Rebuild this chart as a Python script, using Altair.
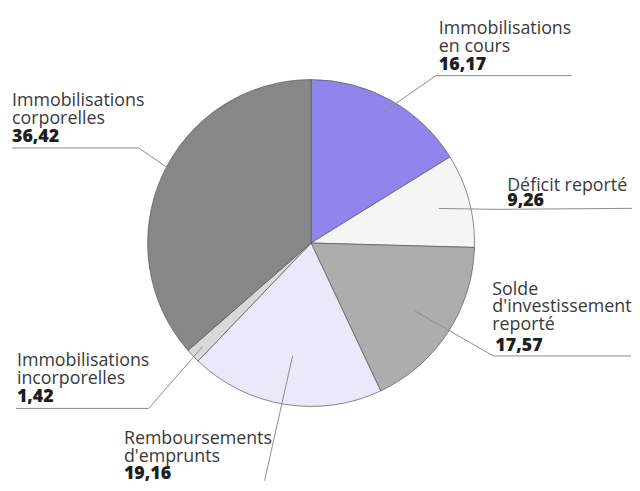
import altair as alt
import pandas as pd
import numpy as np

# ---- data ----
categories = [
    "Immobilisations en cours",
    "Déficit reporté",
    "Solde d'investissement reporté",
    "Remboursements d'emprunts",
    "Immobilisations incorporelles",
    "Immobilisations corporelles",
]
values = [16.17, 9.26, 17.57, 19.16, 1.42, 36.42]
label_lines = [
    ["Immobilisations", "en cours"],
    ["Déficit reporté"],
    ["Solde", "d'investissement", "reporté"],
    ["Remboursements", "d'emprunts"],
    ["Immobilisations", "incorporelles"],
    ["Immobilisations", "corporelles"],
]
colors = ["#9184EC", "#F5F5F5", "#ADADAD", "#ECE8FC", "#D9D9D9", "#878787"]

# ---- layout (page pixel coordinates) ----
W, H = 630, 475
CX, CY, R = 314, 243, 165
label_x = [443, 512, 497, 125, 17, 12]
value_x = [443, 512, 500, 125, 17, 12]
first_baseline = [32, 190, 295, 446, 367, 105]
value_baseline = [68, 206, 352, 481, 404, 141]
LINE_GAP = 18
anchor_r = [0.92, 0.81, 0.76, 0.70, 0.92, 0.68]
elbows = [(440, 74), (502, 209), (498, 357), None, (150, 410), (140, 147)]
ends = [(577, 74), (638, 208), (637, 357), (267, 483), (16, 410), (12, 147)]

total = sum(values)
pie_df = pd.DataFrame({"category": categories, "value": values, "idx": range(len(values))})

# leader lines: start point at each slice's mid-angle
rows = []
cum = 0.0
for i, (c, v) in enumerate(zip(categories, values)):
    a = 2 * np.pi * (cum + v / 2) / total
    cum += v
    sx = CX + anchor_r[i] * R * np.sin(a)
    sy = CY - anchor_r[i] * R * np.cos(a)
    pts = [(sx, sy)]
    if elbows[i] is not None:
        pts.append(elbows[i])
    pts.append(ends[i])
    for k, (x, y) in enumerate(pts):
        rows.append({"category": c, "step": k, "x": x, "y": y})
lines_df = pd.DataFrame(rows)

# text rows
trows = []
for i, c in enumerate(categories):
    for k, t in enumerate(label_lines[i]):
        trows.append({"x": label_x[i], "y": first_baseline[i] + k * LINE_GAP, "text": t})
names_df = pd.DataFrame(trows)
vals_df = pd.DataFrame({
    "x": value_x,
    "y": value_baseline,
    "text": [f"{v:.2f}".replace(".", ",") for v in values],
})

xs = alt.Scale(domain=[8, 8 + W], zero=False, nice=False)
ys = alt.Scale(domain=[8, 8 + H], zero=False, nice=False, reverse=True)

pie = alt.Chart(pie_df).mark_arc(radius=R, stroke="#555555", strokeWidth=0.7).encode(
    theta=alt.Theta("value:Q", stack=True),
    color=alt.Color("category:N", scale=alt.Scale(domain=categories, range=colors), legend=None),
    order=alt.Order("idx:Q"),
    x=alt.value(CX - 8),
    y=alt.value(CY - 8),
)

leaders = alt.Chart(lines_df).mark_line(color="#8c8c8c", strokeWidth=1).encode(
    x=alt.X("x:Q", scale=xs, axis=None),
    y=alt.Y("y:Q", scale=ys, axis=None),
    detail="category:N",
    order="step:Q",
)

names = alt.Chart(names_df).mark_text(
    align="left", baseline="alphabetic", font="Open Sans", fontSize=18, color="#3a3a3a"
).encode(
    x=alt.X("x:Q", scale=xs, axis=None),
    y=alt.Y("y:Q", scale=ys, axis=None),
    text="text:N",
)

nums = alt.Chart(vals_df).mark_text(
    align="left", baseline="alphabetic", font="Open Sans", fontSize=18, fontWeight=800, color="#1e1e1e"
).encode(
    x=alt.X("x:Q", scale=xs, axis=None),
    y=alt.Y("y:Q", scale=ys, axis=None),
    text="text:N",
)

chart = alt.layer(pie, leaders, names, nums).properties(
    width=W, height=H, autosize=alt.AutoSizeParams(type="none"), padding=0
).configure_view(stroke=None)

chart.save("out.html", embed_options={"renderer": "svg", "actions": False})
